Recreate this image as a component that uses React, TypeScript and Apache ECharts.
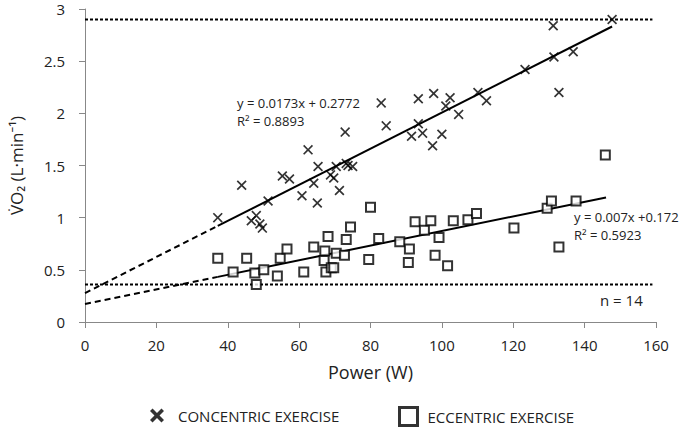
import React, { useEffect, useRef } from "react";
import * as echarts from "echarts";

const concentric: [number, number][] = [
  [37.2, 1.0], [43.9, 1.31], [46.6, 0.97], [48.0, 1.02], [49.0, 0.94], [49.7, 0.9],
  [51.3, 1.16], [55.3, 1.4], [57.3, 1.37], [60.8, 1.21], [62.5, 1.65], [64.1, 1.33],
  [65.3, 1.49], [65.1, 1.14], [68.8, 1.41], [69.7, 1.38], [70.4, 1.49], [71.3, 1.26],
  [72.9, 1.82], [73.2, 1.52], [73.7, 1.5], [75.0, 1.49], [83.0, 2.1], [84.4, 1.88],
  [91.5, 1.78], [93.4, 2.14], [93.4, 1.9], [94.6, 1.81], [97.4, 1.69], [97.7, 2.19],
  [100.0, 1.8], [101.1, 2.07], [102.3, 2.15], [104.7, 1.99], [110.1, 2.2], [112.5, 2.12],
  [123.3, 2.42], [131.2, 2.84], [131.4, 2.54], [132.8, 2.2], [136.8, 2.59], [147.7, 2.9],
];

const eccentric: [number, number][] = [
  [37.2, 0.61], [41.5, 0.48], [45.3, 0.61], [47.6, 0.47], [48.0, 0.36], [50.1, 0.5],
  [53.9, 0.44], [54.7, 0.61], [56.6, 0.7], [61.3, 0.48], [64.1, 0.72], [67.2, 0.68],
  [67.0, 0.59], [67.5, 0.48], [68.1, 0.82], [69.0, 0.52], [69.7, 0.52], [70.4, 0.66],
  [72.7, 0.64], [73.2, 0.79], [74.4, 0.91], [79.5, 0.6], [80.0, 1.1], [82.3, 0.8],
  [88.2, 0.77], [90.9, 0.7], [90.6, 0.57], [92.5, 0.96], [95.1, 0.88], [96.9, 0.97],
  [99.2, 0.81], [98.1, 0.64], [101.6, 0.54], [103.2, 0.97], [107.3, 0.98], [109.7, 1.04],
  [120.2, 0.9], [129.5, 1.09], [130.7, 1.16], [132.8, 0.72], [137.6, 1.16], [145.8, 1.6],
];

// regression fits as published on the chart
const concSlope = 0.0173;
const concIntercept = 0.2772;
const eccSlope = 0.007;
const eccIntercept = 0.172;
const concRange = [37.2, 147.7];
const eccRange = [37.2, 146];

const refLevels = [2.9, 0.36];
const refRange = [0, 159];

const xTicks = [0, 20, 40, 60, 80, 100, 120, 140, 160];
const yTicks = [0, 0.5, 1, 1.5, 2, 2.5, 3];

const CROSS = "path://M0,1.2L1.2,0L5,3.8L8.8,0L10,1.2L6.2,5L10,8.8L8.8,10L5,6.2L1.2,10L0,8.8L3.8,5Z";
const CROSS_BOLD = "path://M0,1.8L1.8,0L5,3.2L8.2,0L10,1.8L6.8,5L10,8.2L8.2,10L5,6.8L1.8,10L0,8.2L3.2,5Z";
const FONT = "'Open Sans', 'Noto Sans', sans-serif";

const fit = (m: number, b: number, x: number): [number, number] => [x, m * x + b];

export default function App() {
  const ref = useRef<HTMLDivElement>(null);
  useEffect(() => {
    if (!ref.current) return;
    const chart = echarts.init(ref.current, null, { renderer: "svg" });
    const solid = { color: "#000", width: 2, type: "solid" as const };
    const dashed = { color: "#000", width: 2, type: [6, 4] as any };
    const dotted = { color: "#000", width: 2, type: [3, 2] as any };
    chart.setOption({
      animation: false,
      grid: { left: 83, right: 31, top: 9, bottom: 112 },
      xAxis: {
        type: "value",
        min: xTicks[0],
        max: xTicks[xTicks.length - 1],
        interval: 20,
        name: "Power (W)",
        nameLocation: "middle",
        nameGap: 41,
        nameTextStyle: { fontFamily: FONT, fontSize: 18, color: "#222" },
        axisLine: { lineStyle: { color: "#888", width: 1 } },
        axisTick: { show: true, length: 6, lineStyle: { color: "#888" } },
        axisLabel: { fontFamily: FONT, fontSize: 15, color: "#222", margin: 15 },
        splitLine: { show: false },
      },
      yAxis: {
        type: "value",
        min: yTicks[0],
        max: yTicks[yTicks.length - 1],
        interval: 0.5,
        name: "V\u0307O\u2082 (L\u00B7min\u207B\u00B9)",
        nameLocation: "middle",
        nameGap: 60,
        nameTextStyle: { fontFamily: FONT, fontSize: 17, color: "#222" },
        axisLine: { show: true, lineStyle: { color: "#888", width: 1 } },
        axisTick: { show: true, length: 6, lineStyle: { color: "#888" } },
        axisLabel: { fontFamily: FONT, fontSize: 15, color: "#222", margin: 20 },
        splitLine: { show: false },
      },
      legend: [
        {
          top: 408,
          left: 150,
          padding: 0,
          itemWidth: 14,
          itemHeight: 14,
          textStyle: { fontFamily: FONT, fontSize: 15, color: "#222", padding: [0, 0, 0, 9] },
          data: [{ name: "CONCENTRIC EXERCISE", icon: CROSS_BOLD, itemStyle: { color: "#000" } }],
        },
        {
          top: 406,
          left: 398,
          padding: 0,
          itemWidth: 18,
          itemHeight: 18,
          textStyle: { fontFamily: FONT, fontSize: 15, color: "#222", padding: [0, 0, 0, 5] },
          data: [{ name: "ECCENTRIC EXERCISE", icon: "rect", itemStyle: { color: "#fff", borderColor: "#000", borderWidth: 3 } }],
        },
      ],
      graphic: [
        { type: "text", left: 237, top: 96, style: { text: "y = 0.0173x + 0.2772", font: `13px ${FONT}`, fill: "#222" } },
        { type: "text", left: 237, top: 114, style: { text: "R\u00B2 = 0.8893", font: `13px ${FONT}`, fill: "#222" } },
        { type: "text", left: 574, top: 210, style: { text: "y = 0.007x +0.172", font: `13px ${FONT}`, fill: "#222" } },
        { type: "text", left: 574, top: 228, style: { text: "R\u00B2 = 0.5923", font: `13px ${FONT}`, fill: "#222" } },
        { type: "text", left: 600, top: 292, style: { text: "n = 14", font: `15px ${FONT}`, fill: "#222" } },
      ],
      series: [
        ...refLevels.map((v, i) => ({
          name: "ref" + i,
          type: "line",
          data: [[refRange[0], v], [refRange[1], v]],
          symbol: "none",
          lineStyle: dotted,
          silent: true,
          z: 1,
        })),
        { name: "concDash", type: "line", symbol: "none", lineStyle: dashed, data: [fit(concSlope, concIntercept, 0), fit(concSlope, concIntercept, concRange[0])], z: 2 },
        { name: "concFit", type: "line", symbol: "none", lineStyle: solid, data: [fit(concSlope, concIntercept, concRange[0]), fit(concSlope, concIntercept, concRange[1])], z: 2 },
        { name: "eccDash", type: "line", symbol: "none", lineStyle: dashed, data: [fit(eccSlope, eccIntercept, 0), fit(eccSlope, eccIntercept, eccRange[0])], z: 2 },
        { name: "eccFit", type: "line", symbol: "none", lineStyle: solid, data: [fit(eccSlope, eccIntercept, eccRange[0]), fit(eccSlope, eccIntercept, eccRange[1])], z: 2 },
        {
          name: "CONCENTRIC EXERCISE",
          type: "scatter",
          symbol: CROSS,
          symbolSize: 10,
          itemStyle: { color: "#000" },
          data: concentric,
          z: 3,
        },
        {
          name: "ECCENTRIC EXERCISE",
          type: "scatter",
          symbol: "rect",
          symbolSize: 9,
          itemStyle: { color: "#fff", borderColor: "#000", borderWidth: 2 },
          data: eccentric,
          z: 3,
        },
      ],
    });
    return () => chart.dispose();
  }, []);
  return <div ref={ref} style={{ position: "absolute", left: 0, top: 0, width: 687, height: 434 }} />;
}
